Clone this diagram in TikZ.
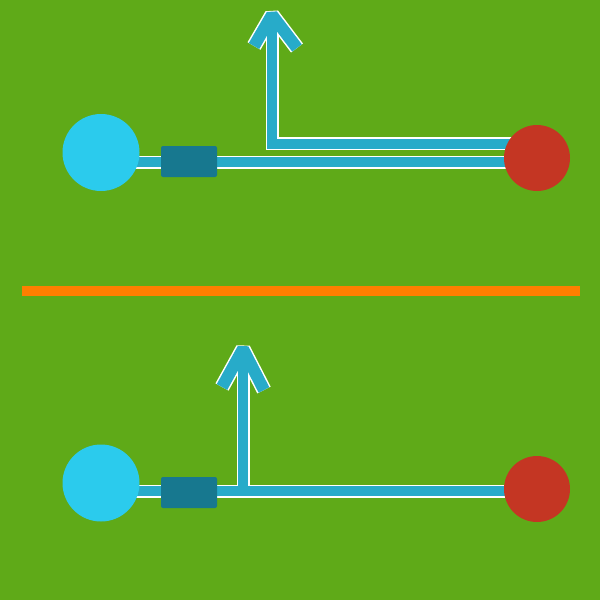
\documentclass[tikz,border=0pt]{standalone}
\usetikzlibrary{positioning}
\definecolor{bg}{HTML}{5FAA18}
\definecolor{wire}{HTML}{27ABC9}
\definecolor{srcc}{HTML}{2BCBED}
\definecolor{boxc}{HTML}{17788F}
\definecolor{sinkc}{HTML}{C43623}
\definecolor{divc}{HTML}{FF7F00}
\tikzset{
  wireout/.style={draw=white, line width=13pt, line join=miter},
  wirein/.style={draw=wire, line width=10pt, line join=miter},
  headout/.style={draw=white, line width=15pt, line join=bevel},
  headin/.style={draw=wire, line width=12pt, line join=bevel},
  src/.style={circle, fill=srcc, minimum size=77pt, inner sep=0pt},
  sink/.style={circle, fill=sinkc, minimum size=66pt, inner sep=0pt},
  blk/.style={rectangle, rounded corners=2pt, fill=boxc, minimum width=56pt, minimum height=31pt, inner sep=0pt},
}
\begin{document}
\begin{tikzpicture}[x=1pt,y=-1pt]
\fill[bg] (0,0) rectangle (600,600);
\useasboundingbox (0,0) rectangle (600,600);
% divider
\coordinate (dl) at (22,291);
\coordinate (dr) at (580,291);
\draw[divc, line width=10pt] (dl) -- (dr);
% ---------- top ----------
\coordinate (t1a) at (101,162);
\coordinate (t1b) at (537,162);
\coordinate (t2a) at (537,143.5);
\coordinate (t2c) at (272,143.5);
\coordinate (t2t) at (272,16);
\coordinate (tal) at (254,46);
\coordinate (tat) at (272,15);
\coordinate (tar) at (297,48);
\draw[wireout] (t1a) -- (t1b);
\draw[wireout] (t2a) -- (t2c) -- (t2t);
\draw[headout] (tal) -- (tat) -- (tar);
\draw[wirein] (t1a) -- (t1b);
\draw[wirein] (t2a) -- (t2c) -- (t2t);
\draw[headin] (tal) -- (tat) -- (tar);
\node[src] (c1) at (101,152.5) {};
\node[blk] (b1) at (189,161.5) {};
\node[sink] (s1) at (537,158) {};
% ---------- bottom ----------
\coordinate (u1a) at (101,491);
\coordinate (u1b) at (537,491);
\coordinate (uv) at (243,491);
\coordinate (ut) at (243,350);
\coordinate (ual) at (222,387);
\coordinate (uat) at (243,349);
\coordinate (uar) at (264,390);
\draw[wireout] (u1a) -- (u1b);
\draw[wireout] (uv) -- (ut);
\draw[headout] (ual) -- (uat) -- (uar);
\draw[wirein] (u1a) -- (u1b);
\draw[wirein] (uv) -- (ut);
\draw[headin] (ual) -- (uat) -- (uar);
\node[src] (c2) at (101,483) {};
\node[blk] (b2) at (189,492.5) {};
\node[sink] (s2) at (537,489) {};
\end{tikzpicture}
\end{document}
